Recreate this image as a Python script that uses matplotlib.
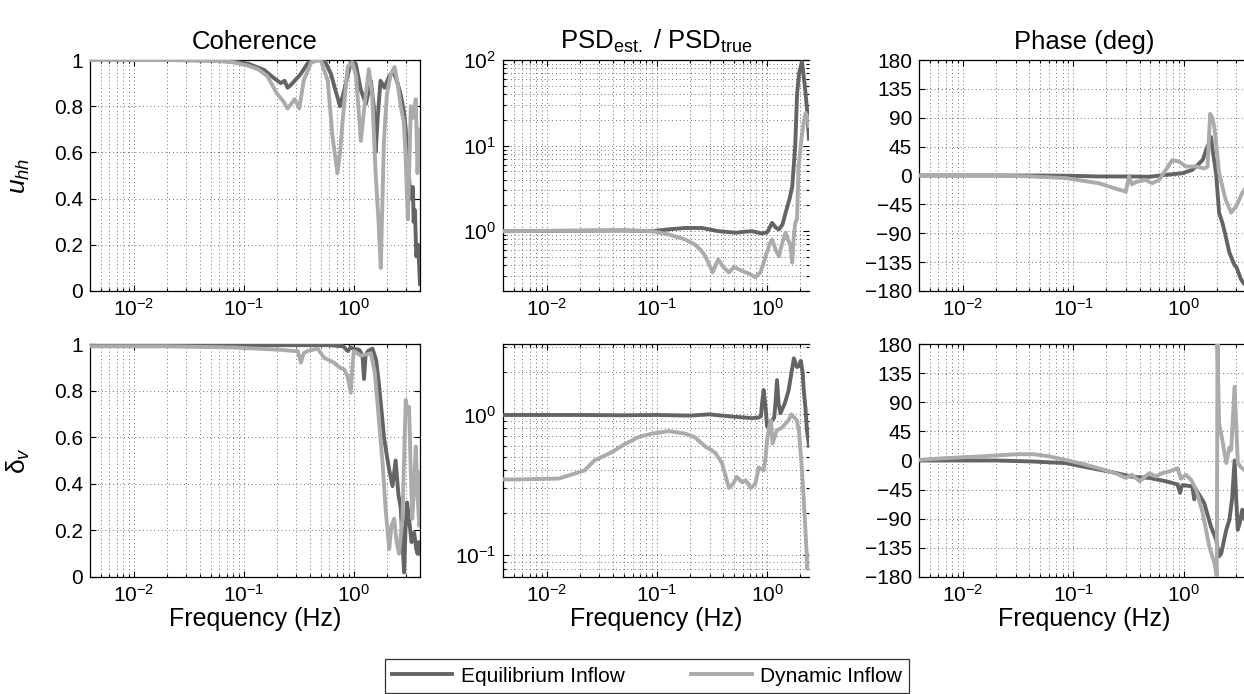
import matplotlib
matplotlib.use("Agg")
import matplotlib.pyplot as plt
from matplotlib.ticker import FixedLocator, NullFormatter, LogLocator, LogFormatterSciNotation
from matplotlib.lines import Line2D

plt.rcParams['font.family'] = ['Liberation Sans', 'DejaVu Sans']
plt.rcParams['mathtext.fontset'] = 'custom'
plt.rcParams['mathtext.rm'] = 'Liberation Sans'
plt.rcParams['mathtext.it'] = 'Liberation Sans:italic'
plt.rcParams['mathtext.default'] = 'regular'

# ---------------- data ----------------
# Coherence, rotor-averaged wind speed u_hh
f_coh_u_eq = [0.004, 0.02, 0.047, 0.076, 0.108, 0.153, 0.19, 0.217, 0.235, 0.25, 0.265, 0.29, 0.33,
              0.38, 0.44, 0.54, 0.62, 0.68, 0.71, 0.75, 0.82, 0.94, 1.04, 1.16, 1.29, 1.43, 1.52, 1.58,
              1.65, 1.75, 1.9, 2.1, 2.3, 2.5, 2.67, 2.85, 2.97, 3.1, 3.3, 3.45, 3.5, 3.6, 3.7, 3.85, 4.0]
coh_u_eq = [1.0, 1.0, 0.998, 0.995, 0.985, 0.957, 0.92, 0.90, 0.91, 0.88, 0.89, 0.91, 0.94,
            0.985, 1.0, 1.0, 0.94, 0.87, 0.84, 0.80, 0.87, 0.99, 0.985, 0.87, 0.81, 0.91, 0.80, 0.60,
            0.75, 0.91, 0.88, 0.93, 0.95, 0.90, 0.85, 0.78, 0.70, 0.55, 0.40, 0.45, 0.30, 0.35, 0.15, 0.20, 0.03]
f_coh_u_dyn = [0.004, 0.02, 0.05, 0.08, 0.11, 0.135, 0.164, 0.20, 0.23, 0.25, 0.27, 0.29, 0.32, 0.35,
               0.41, 0.50, 0.58, 0.64, 0.68, 0.71, 0.75, 0.79, 0.88, 0.97, 1.05, 1.16, 1.25, 1.37, 1.47,
               1.58, 1.68, 1.76, 1.88, 2.0, 2.17, 2.35, 2.5, 2.67, 2.85, 2.95, 3.1, 3.2, 3.3, 3.45, 3.66,
               3.8, 3.9, 4.0]
coh_u_dyn = [1.0, 1.0, 0.998, 0.99, 0.975, 0.96, 0.93, 0.855, 0.82, 0.79, 0.81, 0.83, 0.79, 0.91,
             0.99, 1.0, 0.91, 0.67, 0.58, 0.51, 0.60, 0.73, 0.97, 0.99, 0.93, 0.65, 0.80, 0.96, 0.85,
             0.51, 0.30, 0.10, 0.65, 0.85, 0.94, 0.97, 0.90, 0.80, 0.73, 0.60, 0.31, 0.55, 0.80, 0.75, 0.83,
             0.51, 0.70, 0.65]

# Coherence, vertical shear delta_v
f_coh_d_eq = [0.004, 0.05, 0.3, 0.6, 0.8, 0.88, 0.94, 1.0, 1.12, 1.2, 1.24, 1.28, 1.35, 1.48, 1.6, 1.70,
              1.8, 1.88, 2.0, 2.1, 2.25, 2.4, 2.55, 2.67, 2.77, 2.87, 2.95, 3.05, 3.18, 3.35, 3.54, 3.7,
              3.8, 3.9, 4.0]
coh_d_eq = [0.995, 0.995, 0.995, 0.995, 0.99, 0.97, 0.985, 0.98, 0.975, 0.95, 0.85, 0.95, 0.97, 0.98,
            0.93, 0.82, 0.70, 0.60, 0.52, 0.46, 0.39, 0.50, 0.35, 0.30, 0.15, 0.02, 0.20, 0.32, 0.25,
            0.15, 0.19, 0.12, 0.10, 0.15, 0.10]
f_coh_d_dyn = [0.004, 0.02, 0.08, 0.22, 0.28, 0.31, 0.33, 0.35, 0.38, 0.47, 0.54, 0.6, 0.66, 0.74, 0.82,
               0.88, 0.94, 0.97, 1.0, 1.16, 1.43, 1.55, 1.64, 1.73, 1.82, 1.95, 2.1, 2.2, 2.33, 2.45,
               2.58, 2.77, 2.9, 2.97, 3.08, 3.18, 3.3, 3.4, 3.55, 3.66, 3.8, 3.94, 4.0]
coh_d_dyn = [0.99, 0.99, 0.985, 0.975, 0.97, 0.97, 0.92, 0.96, 0.97, 0.98, 0.94, 0.93, 0.92, 0.90, 0.89,
             0.86, 0.79, 0.90, 0.97, 0.95, 0.96, 0.88, 0.75, 0.62, 0.50, 0.29, 0.12, 0.22, 0.25, 0.15,
             0.10, 0.25, 0.60, 0.76, 0.70, 0.73, 0.45, 0.25, 0.40, 0.56, 0.35, 0.22, 0.45]

# PSD ratio, u_hh
f_psd_u_eq = [0.004, 0.05, 0.09, 0.128, 0.18, 0.256, 0.36, 0.52, 0.6, 0.73, 0.9, 1.0, 1.11, 1.2, 1.28,
              1.38, 1.47, 1.6, 1.69, 1.8, 1.87, 1.95, 2.07, 2.2, 2.3, 2.4]
psd_u_eq = [1.0, 1.02, 1.0, 1.05, 1.09, 1.09, 1.0, 0.96, 0.98, 1.0, 0.94, 0.97, 1.25, 1.1, 1.05,
            1.2, 1.63, 2.4, 3.3, 10, 40, 70, 95, 50, 27, 12]
f_psd_u_dyn = [0.004, 0.05, 0.09, 0.128, 0.18, 0.22, 0.25, 0.275, 0.30, 0.32, 0.34, 0.36, 0.40, 0.45,
               0.50, 0.55, 0.60, 0.68, 0.78, 0.87, 0.97, 1.05, 1.11, 1.2, 1.28, 1.38, 1.47, 1.55, 1.63,
               1.69, 1.75, 1.80, 1.87, 1.93, 2.05, 2.15, 2.24, 2.32, 2.4]
psd_u_dyn = [1.0, 1.02, 1.0, 0.915, 0.80, 0.70, 0.60, 0.51, 0.40, 0.33, 0.40, 0.47, 0.38, 0.33,
             0.38, 0.36, 0.34, 0.32, 0.29, 0.33, 0.51, 0.70, 0.80, 0.60, 0.51, 0.75, 0.96, 0.80, 0.67,
             0.43, 0.90, 1.25, 1.40, 5.6, 12, 19, 24, 21, 17]

# PSD ratio, delta_v
f_psd_d_eq = [0.004, 0.02, 0.05, 0.1, 0.2, 0.3, 0.36, 0.52, 0.73, 0.84, 0.88, 0.9, 0.93, 0.97, 1.0,
              1.08, 1.16, 1.2, 1.23, 1.27, 1.32, 1.45, 1.57, 1.65, 1.75, 1.86, 1.95, 2.02, 2.1, 2.15,
              2.23, 2.3, 2.4]
psd_d_eq = [0.99, 0.99, 0.985, 0.99, 0.98, 1.0, 0.985, 0.96, 0.94, 0.95, 0.97, 1.2, 1.49, 1.1, 0.82,
            0.88, 0.95, 1.3, 1.75, 1.2, 1.02, 1.2, 1.49, 1.9, 2.5, 2.17, 2.2, 2.4, 2.0, 1.49,
            1.1, 0.77, 0.6]
f_psd_d_dyn = [0.004, 0.0055, 0.0128, 0.018, 0.022, 0.027, 0.039, 0.052, 0.068, 0.09, 0.128, 0.18,
               0.22, 0.275, 0.31, 0.34, 0.39, 0.45, 0.49, 0.53, 0.59, 0.64, 0.71, 0.78, 0.84, 0.93,
               0.97, 1.0, 1.04, 1.08, 1.12, 1.22, 1.35, 1.47, 1.58, 1.66, 1.76, 1.86, 1.95, 2.05,
               2.15, 2.25, 2.32, 2.4]
psd_d_dyn = [0.345, 0.345, 0.35, 0.38, 0.40, 0.47, 0.54, 0.62, 0.69, 0.73, 0.76, 0.73,
             0.69, 0.59, 0.56, 0.53, 0.45, 0.30, 0.32, 0.36, 0.33, 0.34, 0.30, 0.32, 0.42, 0.40,
             0.50, 0.66, 0.80, 0.91, 0.62, 0.77, 0.80, 0.86, 0.92, 1.0, 0.95, 0.91, 0.75, 0.45,
             0.25, 0.13, 0.08, 0.10]

# Phase (deg), u_hh
f_ph_u_eq = [0.004, 0.05, 0.1, 0.17, 0.34, 0.49, 0.69, 0.98, 1.2, 1.39, 1.5, 1.6, 1.7, 1.77, 1.85, 1.97,
             2.1, 2.26, 2.44, 2.6, 2.9, 3.0, 3.3, 3.5, 4.0]
ph_u_eq = [0, 0, -0.5, -1.5, -1.5, -2, 1, 3.6, 8.7, 19, 25, 40, 50, 60, 35, 3.6,
           -58, -75, -99, -120, -140, -142, -161, -168, -175]
f_ph_u_dyn = [0.004, 0.02, 0.042, 0.085, 0.17, 0.26, 0.3, 0.32, 0.34, 0.37, 0.40, 0.45, 0.52, 0.6,
              0.69, 0.79, 0.91, 1.05, 1.3, 1.54, 1.65, 1.74, 1.82, 1.9, 2.0, 2.1, 2.4, 2.7, 3.0, 3.4, 4.0]
ph_u_dyn = [0, 0, -1.5, -4, -12, -22, -25, -1.5, -14, -10, -9, -7, -12, -7,
            8.7, 24, 21.6, 14, 14, 11, 14, 96, 90, 76, 40, 3.6, -37, -58, -48, -27, -10]

# Phase (deg), delta_v
f_ph_d_eq = [0.004, 0.02, 0.042, 0.085, 0.12, 0.17, 0.24, 0.34, 0.49, 0.69, 0.88, 0.93, 0.95, 0.98,
             1.2, 1.25, 1.3, 1.54, 1.77, 1.97, 2.1, 2.2, 2.3, 2.44, 2.6, 2.75, 2.9, 3.0, 3.1, 3.25,
             3.4, 3.6, 4.0]
ph_d_eq = [0, 0, -1.5, -4, -9, -14, -19, -25, -27, -32, -37, -50, -42, -38,
           -40, -60, -45, -66, -102, -122, -148, -143, -127, -107, -92, -60, 0, -60, -107, -95,
           -76, -90, -120]
f_ph_d_dyn = [0.004, 0.0076, 0.015, 0.031, 0.044, 0.06, 0.085, 0.12, 0.17, 0.24, 0.3, 0.34, 0.4, 0.49,
              0.56, 0.64, 0.74, 0.88, 0.95, 1.05, 1.17, 1.3, 1.49, 1.71, 1.9, 2.0, 2.03, 2.06, 2.1,
              2.2, 2.44, 2.6, 2.7, 2.9, 3.1, 3.3, 3.5, 4.0]
ph_d_dyn = [1, 4, 6.5, 9.7, 9.7, 6.5, 1, -5, -12, -19.5, -27, -22, -32, -19.5,
            -24.7, -19.5, -17, -12, -28, -22, -30, -45, -81, -133, -158, -179, 180, 120, 57,
            40, -4, 20, 16, 114, -4, -10, -14, -20]

titles = ['Coherence', r'PSD$_{est.}$ / PSD$_{true}$', 'Phase (deg)']
row_labels = [r'$\it{u_{hh}}$', r'δ$_{\it{v}}$']
series_names = ['Equilibrium Inflow', 'Dynamic Inflow']
coh_ticks = [0, 0.2, 0.4, 0.6, 0.8, 1]
coh_ticklabels = ['0', '0.2', '0.4', '0.6', '0.8', '1']
phase_ticks = [-180, -135, -90, -45, 0, 45, 90, 135, 180]
phase_ticklabels = ['\u2212180', '\u2212135', '\u221290', '\u221245', '0', '45', '90', '135', '180']

# ---------------- styling ----------------
DARK = '#646464'
LIGHT = '#ababab'
LW = 2.8
W, H = 1244, 694

fig = plt.figure(figsize=(W / 100, H / 100), dpi=100)


def add_axes(left, top, width, height):
    return fig.add_axes([left / W, 1 - (top + height) / H, width / W, height / H])


col_geom = [(90, 330), (503, 306), (919, 331)]
row_geom = [(60, 231), (344, 233)]

axes = [[add_axes(cl, rt, cw, rh) for (cl, cw) in col_geom] for (rt, rh) in row_geom]

data = [
    [(f_coh_u_eq, coh_u_eq, f_coh_u_dyn, coh_u_dyn),
     (f_psd_u_eq, psd_u_eq, f_psd_u_dyn, psd_u_dyn),
     (f_ph_u_eq, ph_u_eq, f_ph_u_dyn, ph_u_dyn)],
    [(f_coh_d_eq, coh_d_eq, f_coh_d_dyn, coh_d_dyn),
     (f_psd_d_eq, psd_d_eq, f_psd_d_dyn, psd_d_dyn),
     (f_ph_d_eq, ph_d_eq, f_ph_d_dyn, ph_d_dyn)],
]

grid_kw = dict(color='0.25', linewidth=0.6, linestyle=(0, (1, 3.5)))

for r in range(2):
    for c in range(3):
        ax = axes[r][c]
        fe, ve, fd, vd = data[r][c]
        ax.plot(fe, ve, color=DARK, lw=LW, solid_joinstyle='round', zorder=3)
        ax.plot(fd, vd, color=LIGHT, lw=LW, solid_joinstyle='round', zorder=4)
        ax.set_xscale('log')
        ax.set_xlim(0.004, 2.4 if c == 1 else 4.0)
        ax.xaxis.set_major_locator(FixedLocator([1e-2, 1e-1, 1e0]))
        ax.xaxis.set_major_formatter(LogFormatterSciNotation())
        ax.xaxis.set_minor_locator(LogLocator(base=10, subs=range(2, 10), numticks=20))
        ax.xaxis.set_minor_formatter(NullFormatter())

        if c == 0:
            ax.set_ylim(0, 1)
            ax.set_yticks(coh_ticks)
            ax.set_yticklabels(coh_ticklabels)
        elif c == 1:
            ax.set_yscale('log')
            if r == 0:
                ax.set_ylim(0.2, 100)
                ax.yaxis.set_major_locator(FixedLocator([1e0, 1e1, 1e2]))
            else:
                ax.set_ylim(0.07, 3.16)
                ax.yaxis.set_major_locator(FixedLocator([1e-1, 1e0]))
            ax.yaxis.set_major_formatter(LogFormatterSciNotation())
            ax.yaxis.set_minor_locator(LogLocator(base=10, subs=range(2, 10), numticks=20))
            ax.yaxis.set_minor_formatter(NullFormatter())
        else:
            ax.set_ylim(-180, 180)
            ax.set_yticks(phase_ticks)
            ax.set_yticklabels(phase_ticklabels)

        ax.grid(True, which='major', **grid_kw)
        ax.grid(True, which='minor', axis='x', **grid_kw)
        if c == 1:
            ax.grid(True, which='minor', axis='y', **grid_kw)
        ax.set_axisbelow(True)

        ax.tick_params(which='both', direction='in', top=True, right=True,
                       labelsize=15, width=0.8, pad=5)
        ax.tick_params(which='major', length=4)
        ax.tick_params(which='minor', length=2)
        for s in ax.spines.values():
            s.set_linewidth(0.9)
            s.set_color('black')
        if c > 0:
            ax.spines['right'].set_visible(False)

        if r == 0:
            ax.set_title(titles[c], fontsize=18.5, pad=8)
        else:
            ax.set_xlabel('Frequency (Hz)', fontsize=18, labelpad=1)
        if c == 0:
            ax.set_ylabel(row_labels[r], fontsize=19)
            ax.yaxis.set_label_coords(-0.175, 0.5)

handles = [Line2D([], [], color=DARK, lw=LW), Line2D([], [], color=LIGHT, lw=LW)]
leg = fig.legend(handles, series_names, loc='center', ncol=2,
                 bbox_to_anchor=(647 / W, 1 - 676 / H), fontsize=15,
                 frameon=True, fancybox=False, edgecolor='black',
                 handlelength=2.9, columnspacing=3.2, handletextpad=0.4,
                 borderpad=0.35)
leg.get_frame().set_linewidth(0.9)

fig.savefig('out.png', dpi=100)
